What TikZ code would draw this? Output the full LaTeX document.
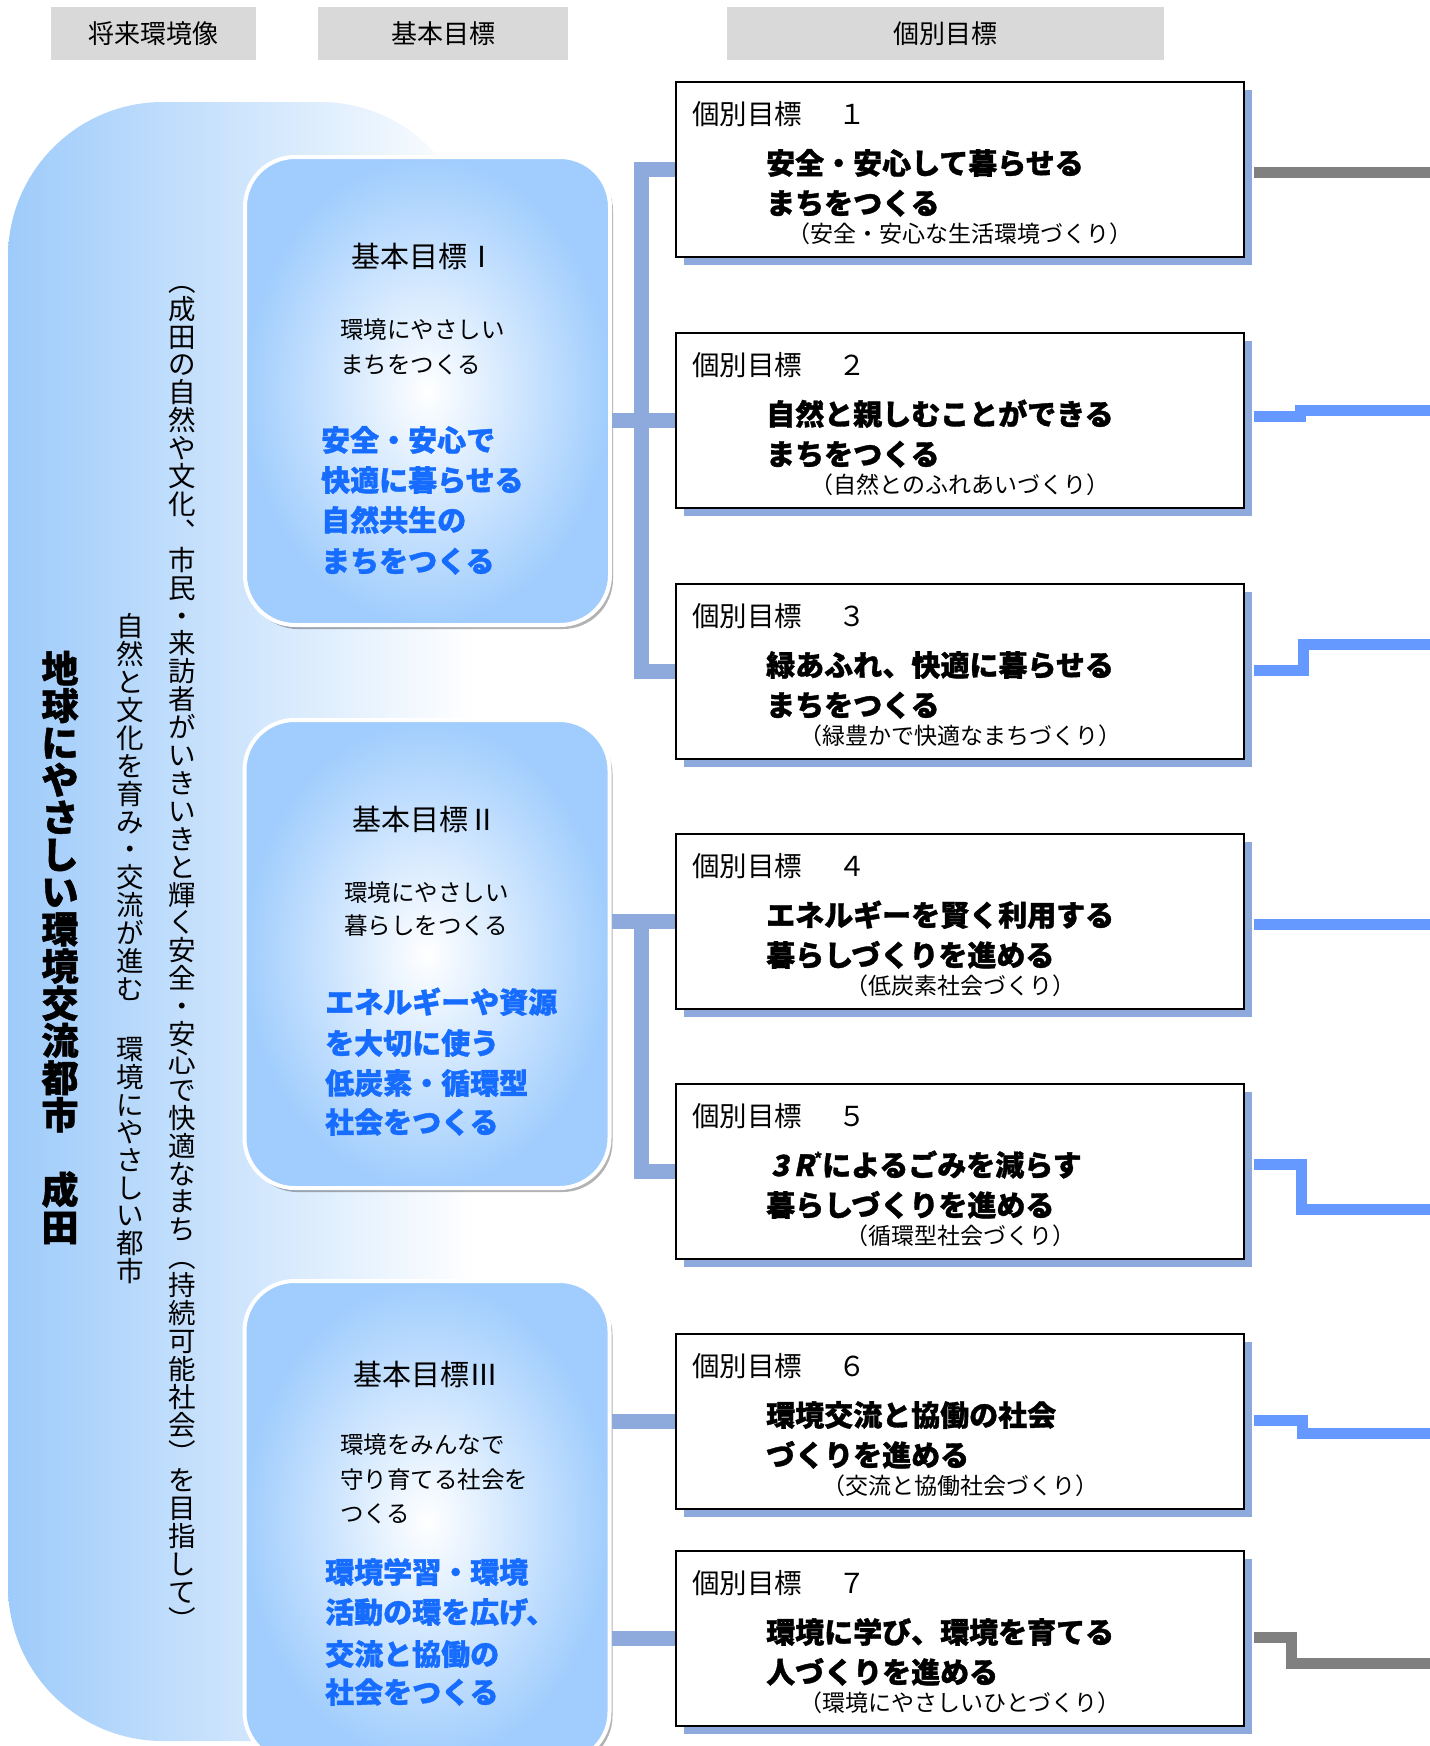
\documentclass[tikz,border=0pt]{standalone}
\usepackage{fontspec}
\setmainfont{Noto Sans CJK JP}
\usetikzlibrary{shadows,calc}
\definecolor{bigblue}{RGB}{158,203,250}
\definecolor{boxblue}{RGB}{160,205,253}
\definecolor{lconn}{RGB}{142,170,220}
\definecolor{rblue}{RGB}{102,153,255}
\definecolor{rgray}{RGB}{128,128,128}
\definecolor{hdr}{RGB}{217,217,217}
\definecolor{txtblue}{RGB}{22,108,255}
\newcommand\myfs[1]{\fontsize{#1}{#1}\selectfont}
\newcommand\heavy{\bfseries\addfontfeature{FakeBold=1.2}}
\begin{document}
\begin{tikzpicture}[x=1pt,y=-1pt,
  hdrbox/.style={fill=hdr, inner sep=0, minimum height=53pt, font=\myfs{26}},
  goalbox/.style={rounded corners=50pt, draw=white, line width=4pt, inner color=white, outer color=boxblue, minimum width=365pt, inner sep=0,
     drop shadow={shadow xshift=3pt, shadow yshift=-4pt, opacity=.3, fill=black}},
  indbox/.style={draw=black, line width=2pt, fill=white, minimum width=568pt, minimum height=175pt, inner sep=0,
     drop shadow={shadow xshift=8pt, shadow yshift=-8pt, opacity=1, fill=lconn}},
  lline/.style={draw=lconn, line width=15pt},
  rbl/.style={draw=rblue, line width=11pt},
  rgr/.style={draw=rgray, line width=11pt},
  lbl/.style={anchor=base west, inner sep=0, font=\myfs{27.5}},
  bld/.style={anchor=base west, inner sep=0, font=\myfs{29}\heavy},
  sml/.style={anchor=base, inner sep=0, font=\myfs{23}},
  ttl/.style={anchor=base, inner sep=0, font=\myfs{29}},
  subt/.style={anchor=base west, inner sep=0, font=\myfs{23.5}},
  blu/.style={anchor=base west, inner sep=0, font=\myfs{29}\heavy, text=txtblue},
  vch/.style={anchor=base, inner sep=0},
]
\path[use as bounding box] (0,0) rectangle (1430,1746);
\clip (0,0) rectangle (1430,1746);

% headers
\node[hdrbox, minimum width=205pt] (h1) at (153.5,33.5) {将来環境像};
\node[hdrbox, minimum width=250pt] (h2) at (443,33.5) {基本目標};
\node[hdrbox, minimum width=437pt] (h3) at (945.5,33.5) {個別目標};

% big background shape
\path[left color=bigblue, right color=white, rounded corners=155pt] (8,102) rectangle (475,1741);

% vertical texts (one character per cell)
\foreach \c [count=\i from 0] in {地,球,に,や,さ,し,い,環,境,交,流,都,市}
  \node[vch, font=\myfs{37}\heavy] (va\i) at (60,650+37.2*\i+32.5) {\c};
\foreach \c [count=\i from 0] in {成,田}
  \node[vch, font=\myfs{37}\heavy] (vb\i) at (60,1171+37.6*\i+32.5) {\c};
\foreach \c [count=\i from 0] in {自,然,と,文,化,を,育,み,・,交,流,が,進,む}
  \node[vch, font=\myfs{27.5}] (vc\i) at (130,612.5+27.9*\i+24.2) {\c};
\foreach \c [count=\i from 0] in {環,境,に,や,さ,し,い,都,市}
  \node[vch, font=\myfs{27.5}] (vd\i) at (130,1035.5+27.7*\i+24.2) {\c};
\foreach \c [count=\i from 0] in {︵,成,田,の,自,然,や,文,化,︑,市,民,・,来,訪,者,が,い,き,い,き,と,輝,く,安,全,・,安,心,で,快,適,な,ま,ち,︵,持,続,可,能,社,会,︶,を,目,指,し,て,︶}
  \node[vch, font=\myfs{27.5}] (ve\i) at (182,267+27.9*\i+24.2) {\c};

% basic goal boxes
\node[goalbox, minimum height=468pt] (gI) at (427.5,391) {};
\node[goalbox, minimum height=468pt] (gII) at (427,954) {};
\node[goalbox, minimum height=481pt] (gIII) at (427,1521.5) {};

\node[ttl] (gIt) at (424,267) {基本目標Ⅰ};
\node[subt] (gIs1) at (340,338) {環境にやさしい};
\node[subt] (gIs2) at (340,373) {まちをつくる};
\node[blu] (gIb1) at (321,451) {安全・安心で};
\node[blu] (gIb2) at (321,491) {快適に暮らせる};
\node[blu] (gIb3) at (321,531) {自然共生の};
\node[blu] (gIb4) at (321,572) {まちをつくる};

\node[ttl] (gIIt) at (425,830.5) {基本目標Ⅱ};
\node[subt] (gIIs1) at (344,901) {環境にやさしい};
\node[subt] (gIIs2) at (344,934) {暮らしをつくる};
\node[blu] (gIIb1) at (325,1013) {エネルギーや資源};
\node[blu] (gIIb2) at (325,1054) {を大切に使う};
\node[blu] (gIIb3) at (325,1094) {低炭素・循環型};
\node[blu] (gIIb4) at (325,1133) {社会をつくる};

\node[ttl] (gIIIt) at (426,1385) {基本目標Ⅲ};
\node[subt] (gIIIs1) at (340,1453.5) {環境をみんなで};
\node[subt] (gIIIs2) at (340,1488) {守り育てる社会を};
\node[subt] (gIIIs3) at (340,1522) {つくる};
\node[blu] (gIIIb1) at (325,1583) {環境学習・環境};
\node[blu] (gIIIb2) at (325,1623) {活動の環を広げ、};
\node[blu] (gIIIb3) at (325,1665) {交流と協働の};
\node[blu] (gIIIb4) at (325,1703) {社会をつくる};

% individual goal boxes
\node[indbox] (b1) at (960,169.5) {};
\node[indbox] (b2) at (960,420.5) {};
\node[indbox] (b3) at (960,671.5) {};
\node[indbox] (b4) at (960,921.5) {};
\node[indbox] (b5) at (960,1171.5) {};
\node[indbox] (b6) at (960,1421.5) {};
\node[indbox] (b7) at (960,1638.5) {};

\node[lbl] (b1l) at (692,124.5) {個別目標　\hspace{9pt}１};
\node[bld] (b1a) at (766,174) {安全・安心して暮らせる};
\node[bld] (b1b) at (766,214) {まちをつくる};
\node[sml] (b1c) at (960,242) {（安全・安心な生活環境づくり）};

\node[lbl] (b2l) at (692,375.5) {個別目標　\hspace{9pt}２};
\node[bld] (b2a) at (766,425) {自然と親しむことができる};
\node[bld] (b2b) at (766,465) {まちをつくる};
\node[sml] (b2c) at (960,493) {（自然とのふれあいづくり）};

\node[lbl] (b3l) at (692,626.5) {個別目標　\hspace{9pt}３};
\node[bld] (b3a) at (766,676) {緑あふれ、快適に暮らせる};
\node[bld] (b3b) at (766,716) {まちをつくる};
\node[sml] (b3c) at (960,744) {（緑豊かで快適なまちづくり）};

\node[lbl] (b4l) at (692,876.5) {個別目標　\hspace{9pt}４};
\node[bld] (b4a) at (766,926) {エネルギーを賢く利用する};
\node[bld] (b4b) at (766,966) {暮らしづくりを進める};
\node[sml] (b4c) at (960,994) {（低炭素社会づくり）};

\node[lbl] (b5l) at (692,1126.5) {個別目標　\hspace{9pt}５};
\node[bld] (b5a) at (771,1176) {{\addfontfeature{FakeSlant=0.2}3\,R}\raisebox{0.42em}{\myfs{15}*}によるごみを減らす};
\node[bld] (b5b) at (766,1216) {暮らしづくりを進める};
\node[sml] (b5c) at (960,1244) {（循環型社会づくり）};

\node[lbl] (b6l) at (692,1376.5) {個別目標　\hspace{9pt}６};
\node[bld] (b6a) at (766,1426) {環境交流と協働の社会};
\node[bld] (b6b) at (766,1466) {づくりを進める};
\node[sml] (b6c) at (960,1494) {（交流と協働社会づくり）};

\node[lbl] (b7l) at (692,1593.5) {個別目標　\hspace{9pt}７};
\node[bld] (b7a) at (766,1643) {環境に学び、環境を育てる};
\node[bld] (b7b) at (766,1683) {人づくりを進める};
\node[sml] (b7c) at (960,1711) {（環境にやさしいひとづくり）};

% left connectors
\coordinate (vx) at (641,0);
\draw[lline] (b1.west) -- (b1.west -| vx) |- (b3.west);
\draw[lline] (b2.west -| gI.east) -- (b2.west);
\draw[lline] (b4.west -| gII.east) -- (b4.west);
\draw[lline] (b4.west -| vx) |- (b5.west);
\draw[lline] (b6.west -| gIII.east) -- (b6.west);
\draw[lline] (b7.west -| gIII.east) -- (b7.west);

% right connectors (free ends)
\coordinate (r1) at (1440,172.5);
\coordinate (r2) at (1440,410);
\coordinate (r3) at (1440,644.5);
\coordinate (r4) at (1440,924);
\coordinate (r5) at (1440,1209.5);
\coordinate (r6) at (1440,1433.5);
\coordinate (r7) at (1440,1663);
\draw[rgr] ($(b1.east)+(9,3)$) -- (r1);
\draw[rbl] ($(b2.east)+(9,-4.5)$) -- (1300,416) -- (1300,410) -- (r2);
\draw[rbl] ($(b3.east)+(9,-1)$) -- (1303,670.5) -- (1303,644.5) -- (r3);
\draw[rbl] ($(b4.east)+(9,2.5)$) -- (r4);
\draw[rbl] ($(b5.east)+(9,-7)$) -- (1301,1164.5) -- (1301,1209.5) -- (r5);
\draw[rbl] ($(b6.east)+(9,-1)$) -- (1302,1420.5) -- (1302,1433.5) -- (r6);
\draw[rgr] ($(b7.east)+(9,-1)$) -- (1291,1637.5) -- (1291,1663) -- (r7);
\end{tikzpicture}
\end{document}
